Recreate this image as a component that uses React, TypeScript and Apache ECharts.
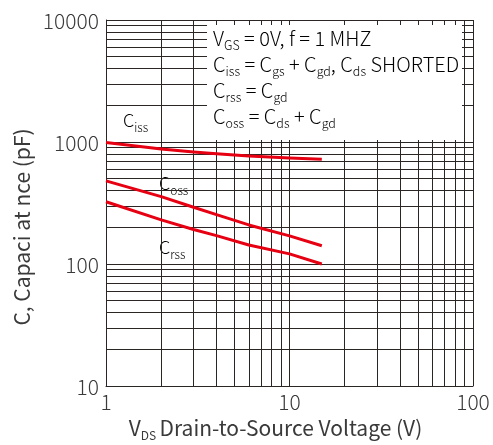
import React, { useEffect, useRef } from "react";
import * as echarts from "echarts";

const vds = [1, 2, 3, 4, 6, 10, 15];
const ciss = [990, 877, 828, 800, 768, 740, 722];
const coss = [480, 357, 292, 254, 209, 170, 141];
const crss = [324, 230, 192, 171, 143, 121, 100];
const xMinor = [2, 3, 4, 5, 6, 7, 8, 9, 20, 30, 40, 50, 60, 70, 80, 90];
const yMinor = [20, 30, 40, 50, 60, 70, 80, 90, 200, 300, 400, 500, 600, 700, 800, 900, 2000, 3000, 4000, 5000, 6000, 7000, 8000, 9000];

const FONT = "Noto Sans CJK JP";
const FW = 300;
const TXT = "#3a3a3a";
const GRID = "#2b2523";
const RED = "#e60012";

export default function App() {
  const ref = useRef<HTMLDivElement>(null);
  useEffect(() => {
    if (!ref.current) return;
    const chart = echarts.init(ref.current, null, { renderer: "svg" });
    const pair = (ys: number[]) => vds.map((x, i) => [x, ys[i]]);
    const main = { fontSize: 20, fontFamily: FONT, fontWeight: FW, color: TXT, lineHeight: 26, verticalAlign: "bottom" };
    const sub = { fontSize: 12.5, fontFamily: FONT, fontWeight: FW, color: TXT, lineHeight: 16, verticalAlign: "bottom", padding: [0, 0, -4, 0] };
    const lblMain = { fontSize: 18, fontFamily: FONT, fontWeight: FW, color: TXT, lineHeight: 20, verticalAlign: "bottom" };
    const lblSub = { fontSize: 12, fontFamily: FONT, fontWeight: FW, color: TXT, lineHeight: 14, verticalAlign: "bottom", padding: [0, 0, -5, 0] };
    const curve = (name: string, ys: number[]) => ({
      name,
      type: "line",
      data: pair(ys),
      smooth: false,
      showSymbol: false,
      z: 5,
      lineStyle: { color: RED, width: 3, join: "round" },
    });
    const label = (x: number, y: number, s: string) => ({
      type: "text",
      z: 4,
      x,
      y,
      style: { text: "{m|C}{s|" + s + "}", rich: { m: lblMain, s: lblSub }, backgroundColor: "#fff", padding: [1, 3, 2, 3] },
    });
    chart.setOption({
      animation: false,
      grid: { left: 106, right: 20, top: 20, bottom: 59, outerBoundsMode: "none", containLabel: false },
      xAxis: {
        type: "log",
        logBase: 10,
        min: 1,
        max: 100,
        axisLine: { show: true, lineStyle: { color: GRID, width: 1 } },
        axisTick: { show: false },
        splitLine: { show: true, lineStyle: { color: GRID, width: 1 } },
        axisLabel: { color: TXT, fontSize: 21, lineHeight: 18, fontFamily: FONT, fontWeight: FW, margin: 6, formatter: (v: number) => String(v) },
        name: "{m|V}{s|DS} {m|Drain-to-Source Voltage (V)}",
        nameLocation: "middle",
        nameGap: 29,
        nameTextStyle: {
          padding: [0, 28, 0, 0],
          rich: {
            m: { fontSize: 21, fontFamily: FONT, fontWeight: 400, color: TXT, lineHeight: 22, verticalAlign: "bottom" },
            s: { fontSize: 12, fontFamily: FONT, fontWeight: 400, color: TXT, lineHeight: 13, verticalAlign: "bottom", padding: [0, 0, -3, 0] },
          },
        },
      },
      yAxis: {
        type: "log",
        logBase: 10,
        min: 10,
        max: 10000,
        axisLine: { show: true, lineStyle: { color: GRID, width: 1 } },
        axisTick: { show: false },
        splitLine: { show: true, lineStyle: { color: GRID, width: 1 } },
        axisLabel: { color: TXT, fontSize: 21, lineHeight: 22, fontFamily: FONT, fontWeight: FW, margin: 7, formatter: (v: number) => String(v) },
        name: "C, Capaci at nce (pF)",
        nameLocation: "middle",
        nameGap: 73,
        nameTextStyle: { color: TXT, fontSize: 21, fontFamily: FONT, fontWeight: 400, padding: [0, 48, 0, 0] },
      },
      series: [
        {
          type: "line",
          data: [[1, 10]],
          showSymbol: false,
          lineStyle: { opacity: 0 },
          silent: true,
          z: 1,
          markLine: {
            silent: true,
            symbol: "none",
            label: { show: false },
            lineStyle: { color: GRID, width: 1, type: "solid" },
            data: [
              ...xMinor.map((v) => ({ xAxis: v })),
              ...yMinor.map((v) => ({ yAxis: v })),
            ],
          },
        },
        curve("Ciss", ciss),
        curve("Coss", coss),
        curve("Crss", crss),
      ],
      graphic: [
        { type: "rect", z: 50, shape: { x: 207, y: 25, width: 255, height: 115 }, style: { fill: "#fff" } },
        {
          type: "text",
          z: 51,
          x: 213,
          y: 21,
          style: {
            text:
              "{m|V}{s|GS}{m| = 0V, f = 1 MHZ}\n" +
              "{m|C}{s|iss}{m| = C}{s|gs}{m| + C}{s|gd}{m|, C}{s|ds}{m| SHORTED}\n" +
              "{m|C}{s|rss}{m| = C}{s|gd}\n" +
              "{m|C}{s|oss}{m| = C}{s|ds}{m| + C}{s|gd}",
            rich: { m: main, s: sub },
          },
        },
        label(120, 107, "iss"),
        label(156, 170, "oss"),
        label(156, 234, "rss"),
      ],
    });
    return () => chart.dispose();
  }, []);
  return <div ref={ref} style={{ position: "fixed", left: 0, top: 0, width: 493, height: 445 }} />;
}
